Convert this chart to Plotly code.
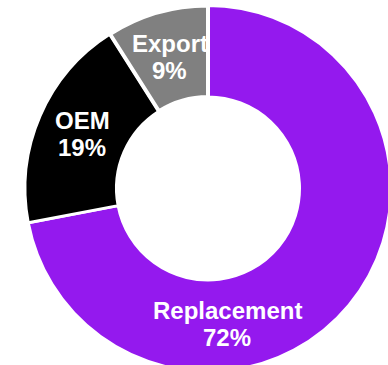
import math
import plotly.graph_objects as go

# Market split by channel (share of volume, %)
segments = ["Replacement", "OEM", "Export"]
shares = [72, 19, 9]

slice_colors = ["#9419EE", "#000000", "#808080"]
separator_widths = [3, 3, 4]

# Canvas and donut geometry (pixels, origin at top-left of the canvas)
FIG_W, FIG_H = 400, 372
CX, CY = 208, 188.5
R_OUT = 183.0
R_IN = 91.5
LABEL_FONT = dict(family="Liberation Sans, Arial, sans-serif", size=24, color="white")
LINE_GAP = 27
# the big slice carries its caption near the bottom of the ring
label_angle_override = {"Replacement": 172.0}

dom_x = [(CX - R_OUT) / FIG_W, (CX + R_OUT) / FIG_W]
dom_y = [max(0.0, 1 - (CY + R_OUT) / FIG_H), 1 - (CY - R_OUT) / FIG_H]

fig = go.Figure(
    go.Pie(
        labels=segments,
        values=shares,
        sort=False,
        direction="clockwise",
        rotation=0,
        hole=R_IN / R_OUT,
        textinfo="none",
        hoverinfo="label+percent",
        marker=dict(colors=slice_colors, line=dict(color="white", width=separator_widths)),
        domain=dict(x=dom_x, y=dom_y),
        showlegend=False,
    )
)

total = sum(shares)
r_mid = (R_OUT + R_IN) / 2 - 0.5
start = 0.0
annotations = []
for name, v in zip(segments, shares):
    frac = v / total
    mid = (start + frac / 2) * 360
    start += frac
    ang = math.radians(label_angle_override.get(name, mid))
    px = CX + r_mid * math.sin(ang)
    py = CY - r_mid * math.cos(ang)
    for text, dy in ((name, -LINE_GAP / 2), (f"{round(frac * 100)}%", LINE_GAP / 2)):
        annotations.append(
            dict(
                x=px / FIG_W,
                y=1 - (py + dy) / FIG_H,
                xref="paper",
                yref="paper",
                text=f"<b>{text}</b>",
                showarrow=False,
                xanchor="center",
                yanchor="middle",
                font=LABEL_FONT,
            )
        )

fig.update_layout(
    width=FIG_W,
    height=FIG_H,
    margin=dict(l=0, r=0, t=0, b=0),
    paper_bgcolor="white",
    plot_bgcolor="white",
    annotations=annotations,
)

fig.write_html(
    "out.html",
    config={"displayModeBar": False},
    post_script=(
        "document.body.style.margin='0';"
        "document.body.style.overflow='hidden';"
        "document.documentElement.style.overflow='hidden';"
    ),
)
